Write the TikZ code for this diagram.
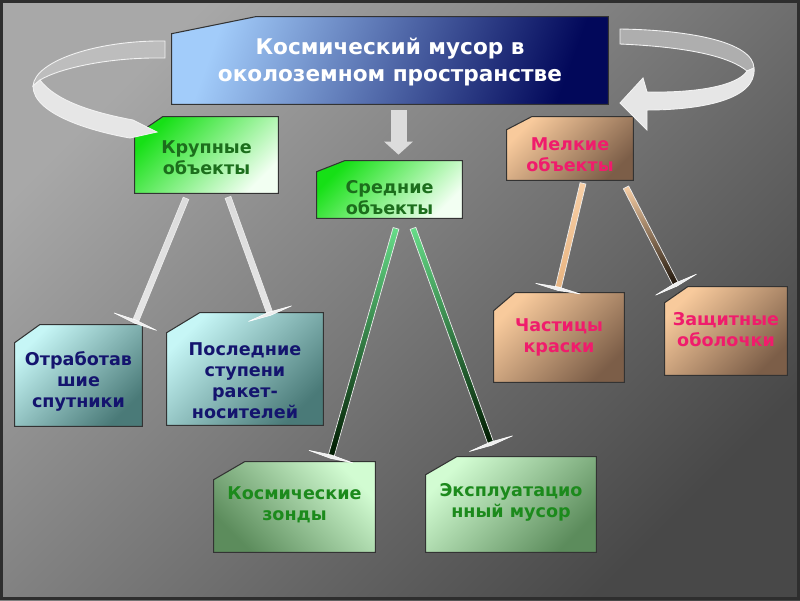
\documentclass[tikz,border=0pt]{standalone}
\usepackage{fontspec}
\setmainfont{DejaVu Sans}
\usetikzlibrary{arrows.meta, calc}

\definecolor{bgA}{HTML}{A8A8A8}
\definecolor{bgM}{HTML}{5E5E5E}
\definecolor{bgB}{HTML}{484848}
\definecolor{frameC}{HTML}{2E2E2E}
\definecolor{ttlA}{HTML}{A2CCFA}
\definecolor{ttlB}{HTML}{02085A}
\definecolor{grnA}{HTML}{16E016}
\definecolor{grnB}{HTML}{F2FFF2}
\definecolor{grnT}{HTML}{1C6E1C}
\definecolor{tanA}{HTML}{F8CA9C}
\definecolor{tanB}{HTML}{7C5E48}
\definecolor{tanT}{HTML}{F01C6C}
\definecolor{cynA}{HTML}{C6F6F6}
\definecolor{cynB}{HTML}{4A7A78}
\definecolor{cynT}{HTML}{14146E}
\definecolor{pgrA}{HTML}{D2FCD2}
\definecolor{pgrB}{HTML}{5C8C5C}
\definecolor{pgrT}{HTML}{1C8A1C}
\definecolor{ribA}{HTML}{E6E6E6}
\definecolor{ribB}{HTML}{BDBDBD}
\definecolor{teeC}{HTML}{EEEEEE}
\definecolor{blkC}{HTML}{DCDCDC}

% bar from #1 to #2 with a cross piece at #2
\newcommand{\teebar}[4]{%
  \path[top color=#3, bottom color=#4, draw=white!85!gray, line width=0.4pt]
    ($(#1)!0.06cm!90:(#2)$) -- ($(#2)!0.06cm!-90:(#1)$) -- ($(#2)!0.06cm!90:(#1)$) -- ($(#1)!0.06cm!-90:(#2)$) -- cycle;
  \path[fill=teeC, draw=white, line width=0.3pt]
    ($(#2)!0.46cm!90:(#1)$) -- ($(#2)!0.035cm!(#1)$) -- ($(#2)!0.46cm!-90:(#1)$) -- ($(#2)!-0.035cm!(#1)$) -- cycle;}

\begin{document}
\begin{tikzpicture}[x=0.02cm, y=-0.02cm,
    area/.style 2 args={minimum width=#1, minimum height=#2, inner sep=0pt},
    bxTitle/.style={draw=black!80, line width=0.6pt, top color=ttlA, bottom color=ttlB, shading angle=70},
    bxGreen/.style={draw=black!80, line width=0.6pt, top color=grnA, bottom color=grnB, shading angle=45},
    bxTan/.style={draw=black!80, line width=0.6pt, top color=tanA, bottom color=tanB, shading angle=45},
    bxCyan/.style={draw=black!80, line width=0.6pt, top color=cynA, bottom color=cynB, shading angle=45},
    bxPale/.style={draw=black!80, line width=0.6pt, top color=pgrA, bottom color=pgrB, shading angle=45},
    bxPaleR/.style={bxPale, shading angle=-45},
    lbl/.style={align=center, font=\bfseries\fontsize{10}{12}\selectfont},
    rib/.style={draw=white!90!gray, line width=0.5pt}]

\useasboundingbox (0,0) rectangle (800,600);
\fill[top color=bgA, middle color=bgM, bottom color=bgB, shading angle=45] (0,0) rectangle (800,600);
\draw[frameC, line width=0.06cm] (1.5,1.5) rectangle (798.5,598.5);

% boxes
\node[area={8.72cm}{1.74cm}] (titl) at (390,60.5) {};
\node[area={2.86cm}{1.52cm}] (krup) at (206.5,155) {};
\node[area={2.9cm}{1.14cm}] (sred) at (389.5,189.5) {};
\node[area={2.52cm}{1.26cm}] (melk) at (570,148.5) {};
\node[area={2.54cm}{2.02cm}] (sput) at (78.5,375.5) {};
\node[area={3.12cm}{2.24cm}] (stup) at (245,369) {};
\node[area={3.22cm}{1.8cm}] (zond) at (294.5,507) {};
\node[area={3.4cm}{1.9cm}] (expl) at (511,504.5) {};
\node[area={2.6cm}{1.78cm}] (kras) at (559,337.5) {};
\node[area={2.44cm}{1.76cm}] (obol) at (726,331) {};

\foreach \n/\a/\b/\s in {titl/84/17/bxTitle, krup/28/19/bxGreen, sred/28/11/bxGreen,
    melk/25/13/bxTan, sput/25/18/bxCyan, stup/33/20/bxCyan, zond/31/18/bxPaleR,
    expl/31/18/bxPale, kras/21/18/bxTan, obol/23/16/bxTan}
  \path[\s] ($(\n.north west)+(0,\b)$) -- ($(\n.north west)+(\a,0)$) -- (\n.north east)
    -- (\n.south east) -- (\n.south west) -- cycle;

% texts
\node[lbl, font=\bfseries\fontsize{12.3}{15.3}\selectfont, text=white] (titlT) at ($(titl)+(0,1.5)$) {Космический мусор в\\околоземном пространстве};
\node[lbl, text=grnT] (krupT) at ($(krup)+(0,3)$) {Крупные\\объекты};
\node[lbl, text=grnT] (sredT) at ($(sred)+(0,8)$) {Средние\\объекты};
\node[lbl, text=tanT] (melkT) at ($(melk)+(0,6.5)$) {Мелкие\\объекты};
\node[lbl, text=cynT] (sputT) at ($(sput)+(0,5.5)$) {Отработав\\шие\\спутники};
\node[lbl, text=cynT] (stupT) at ($(stup)+(0,12)$) {Последние\\ступени\\ракет-\\носителей};
\node[lbl, text=pgrT] (zondT) at ($(zond)+(0,-2)$) {Космические\\зонды};
\node[lbl, text=pgrT] (explT) at ($(expl)+(0,-2.5)$) {Эксплуатацио\\нный мусор};
\node[lbl, text=tanT] (krasT) at (kras) {Частицы\\краски};
\node[lbl, text=tanT] (obolT) at ($(obol)+(0,-1)$) {Защитные\\оболочки};

% connectors
\coordinate (k1a) at ($(krup.south)+(-20.5,5)$); \coordinate (k1b) at ($(sput.north east)+(-7,-3)$);
\coordinate (k2a) at ($(krup.south)+(21.5,4)$);  \coordinate (k2b) at ($(stup.north)+(25,1)$);
\coordinate (s1a) at ($(sred.south)+(6.5,10)$);  \coordinate (s1b) at ($(zond.north)+(36.5,-5)$);
\coordinate (s2a) at ($(sred.south)+(23.5,10)$); \coordinate (s2b) at ($(expl.north)+(-20,-13)$);
\coordinate (m1a) at ($(melk.south)+(13,3)$);    \coordinate (m1b) at ($(kras.north)+(-1,-4)$);
\coordinate (m2a) at ($(melk.south)+(56,7)$);    \coordinate (m2b) at ($(obol.north)+(-50,-2)$);
\teebar{k1a}{k1b}{black!14}{black!10}
\teebar{k2a}{k2b}{black!14}{black!10}
\teebar{s1a}{s1b}{green!55!teal!60}{black!90!green}
\teebar{s2a}{s2b}{green!55!teal!60}{black!90!green}
\teebar{m1a}{m1b}{tanA!90!white}{tanA!70!brown}
\teebar{m2a}{m2b}{tanA!90!white}{black!85!brown}

\coordinate (ba) at ($(titl.south)+(8.5,6)$); \coordinate (bb) at ($(sred.north)+(9,-6)$);
\draw[blkC, line width=0.32cm, -{Triangle[width=0.56cm, length=0.26cm]}] (ba) -- (bb);

% curved arrows
\path[rib, fill=ribB] (165,41) .. controls (100,40) and (35,60) .. (33,86) -- (40,80)
  .. controls (60,68) and (110,57) .. (165,58) -- cycle;
\path[rib, fill=ribA] (33,86) .. controls (33,115) and (95,132) .. (130,138) -- (157,132) -- (133,120)
  .. controls (90,112) and (55,100) .. (40,80) -- cycle;
\path[rib, fill=ribB!92!black] (620,29) .. controls (690,30) and (753,42) .. (754,68) -- (747,71)
  .. controls (730,57) and (690,47) .. (620,44) -- cycle;
\path[rib, fill=ribA] (754,68) .. controls (757,100) and (700,110) .. (647,110) -- (647,130) -- (620,103)
  -- (643,78) -- (647,92) .. controls (700,93) and (738,85) .. (747,71) -- cycle;
\end{tikzpicture}
\end{document}
